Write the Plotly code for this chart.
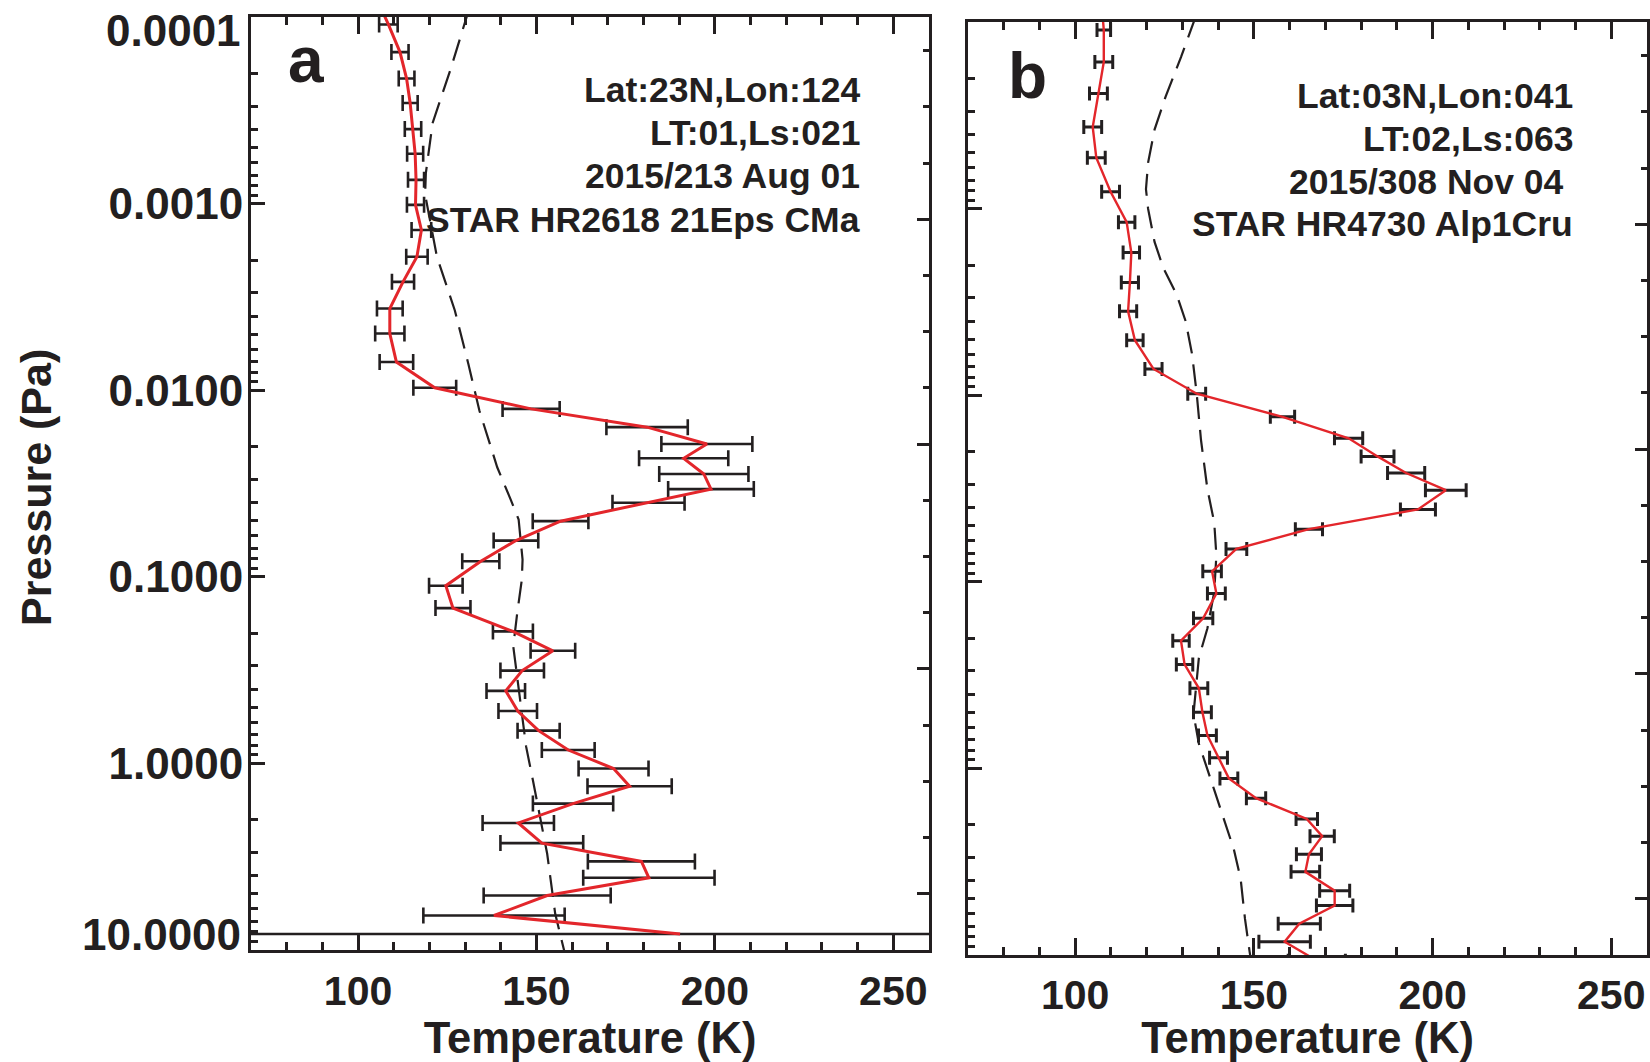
import plotly.graph_objects as go

# ---------------- data ----------------
# Panel a: retrieved temperature profile (K) vs pressure (Pa), with 1-sigma errors
temp_a = [105.7, 108.5, 111.75, 113.6, 114.6, 115.4, 116.0, 116.25, 116.1, 117.75,
          116.5, 112.6, 108.9, 108.9, 110.75, 121.5, 148.5, 181.0, 197.75, 191.25,
          196.9, 198.9, 181.4, 156.75, 144.25, 134.4, 124.6, 126.6, 143.4, 154.6,
          146.0, 141.4, 144.75, 150.6, 158.9, 171.6, 176.1, 160.25, 144.9, 151.5,
          179.4, 181.5, 153.0, 138.1, 190.25]
pres_a = [8.32e-5, 1.091e-4, 1.535e-4, 2.128e-4, 2.877e-4, 3.972e-4, 5.383e-4, 7.43e-4,
          1.012e-3, 1.380e-3, 1.919e-3, 2.618e-3, 3.639e-3, 4.955e-3, 7.047e-3, 9.683e-3,
          1.256e-2, 1.574e-2, 1.936e-2, 2.312e-2, 2.805e-2, 3.381e-2, 4.000e-2, 5.023e-2,
          6.383e-2, 8.241e-2, 0.1114, 0.1469, 0.1959, 0.2489, 0.3177, 0.4083, 0.5236,
          0.6668, 0.8472, 1.064, 1.324, 1.641, 2.084, 2.673, 3.350, 4.102, 5.105, 6.531,
          8.204]
err_a = [2.5, 2.6, 2.4, 2.2, 2.1, 2.3, 2.25, 2.25, 2.4, 2.75,
         3.0, 3.1, 3.6, 4.1, 4.7, 6.0, 8.0, 11.4, 12.75, 12.5,
         12.5, 12.0, 10.1, 7.8, 6.25, 5.2, 4.7, 4.9, 5.6, 6.25,
         6.1, 5.4, 5.4, 5.9, 7.4, 9.8, 11.8, 11.25, 10.0, 11.6,
         15.0, 18.4, 17.8, 19.8, 400.0]
# Panel a: model (dashed) profile
model_temp_a = [131.2, 125.9, 120.9, 119.0, 118.8, 122.1, 127.1, 130.9, 134.0, 139.0,
                142.75, 145.0, 146.1, 145.9, 144.6, 143.5, 145.9, 147.1, 149.0, 150.9,
                153.0, 155.25, 157.75, 158.1]
model_pres_a = [8.91e-5, 1.905e-4, 3.681e-4, 6.839e-4, 8.913e-4, 1.919e-3, 3.715e-3,
                7.194e-3, 1.282e-2, 2.582e-2, 3.837e-2, 4.920e-2, 8.072e-2, 0.1033,
                0.1563, 0.2360, 0.5383, 0.8128, 1.230, 1.858, 3.048, 6.397, 10.0, 10.72]

# Panel b
temp_b = [107.6, 108.0, 108.0, 106.5, 104.9, 105.9, 109.9, 114.4, 115.7, 115.3,
          114.8, 116.7, 121.9, 134.0, 158.0, 176.5, 184.6, 192.6, 203.7, 195.9,
          165.4, 145.1, 138.3, 139.5, 135.8, 129.6, 130.6, 134.6, 135.6, 137.0,
          140.1, 143.0, 150.6, 164.8, 169.1, 165.4, 164.4, 172.6, 172.6, 162.7,
          158.6, 167.6]
pres_b = [8.91e-5, 1.099e-4, 1.629e-4, 2.404e-4, 3.639e-4, 5.321e-4, 8.091e-4, 1.178e-3,
          1.714e-3, 2.483e-3, 3.540e-3, 5.058e-3, 7.211e-3, 9.795e-3, 1.303e-2, 1.698e-2,
          2.123e-2, 2.606e-2, 3.221e-2, 4.083e-2, 5.212e-2, 6.653e-2, 8.770e-2, 0.1153,
          0.1567, 0.2065, 0.2767, 0.3715, 0.5000, 0.6653, 0.8750, 1.130, 1.442, 1.866,
          2.307, 2.884, 3.581, 4.519, 5.433, 6.792, 8.492, 10.72]
err_b = [1.9, 1.9, 2.5, 2.5, 2.5, 2.5, 2.5, 2.3, 2.3, 2.4,
         2.4, 2.3, 2.4, 2.5, 3.4, 3.95, 4.6, 5.2, 5.7, 4.9,
         3.8, 2.9, 2.6, 2.5, 2.7, 2.3, 2.3, 2.5, 2.5, 2.5,
         2.5, 2.5, 2.7, 3.0, 3.4, 3.5, 4.0, 4.2, 5.1, 5.9,
         7.2, 8.0]
model_temp_b = [133.7, 129.6, 125.3, 122.2, 120.4, 119.8, 120.4, 122.2, 124.7, 128.4,
                130.9, 132.7, 134.0, 135.2, 137.0, 138.9, 139.5, 138.9, 137.0, 134.6,
                133.1, 134.6, 138.9, 142.0, 144.4, 146.3, 147.5, 148.8, 149.2]
model_pres_b = [9.33e-5, 1.535e-4, 2.500e-4, 3.758e-4, 5.649e-4, 7.834e-4, 1.0e-3,
                1.503e-3, 2.084e-3, 2.884e-3, 3.999e-3, 6.012e-3, 9.795e-3, 1.734e-2,
                3.192e-2, 4.797e-2, 7.211e-2, 0.1130, 0.1770, 0.2553, 0.5105, 0.7362,
                1.303, 1.959, 2.716, 3.917, 6.383, 9.594, 10.72]

# axis ticks / labels
x_tickvals = [100, 150, 200, 250]
y_tickvals = [1e-4, 1e-3, 1e-2, 1e-1, 1, 10]
y_ticktext = ["0.0001", "0.0010", "0.0100", "0.1000", "1.0000", "10.0000"]
y_minor_vals = [m * 10.0 ** d for d in range(-4, 1) for m in range(2, 10)]

x_title = "Temperature (K)"
y_title = "Pressure (Pa)"
info_a = ["Lat:23N,Lon:124", "LT:01,Ls:021", "2015/213 Aug 01", "STAR HR2618 21Eps CMa"]
info_b = ["Lat:03N,Lon:041", "LT:02,Ls:063", "2015/308 Nov 04\u00a0", "STAR HR4730 Alp1Cru"]

# ---------------- styling ----------------
INK = "#231f20"
RED = "#e3262b"
FONT = "Liberation Sans, Arial, Helvetica, sans-serif"
W, H = 1650, 1062

def px_x(p):
    return p / W

def px_y(p):
    return 1 - p / H

fig = go.Figure()

def add_panel(T, P, E, mT, mP, xa, ya, yalt, lw, ethick, ewidth):
    fig.add_trace(go.Scatter(x=mT, y=mP, mode="lines", xaxis=xa, yaxis=ya,
                             line=dict(color=INK, width=2.2, dash="22px,11px"),
                             showlegend=False, hoverinfo="skip"))
    fig.add_trace(go.Scatter(x=T, y=P, mode="markers", xaxis=xa, yaxis=ya,
                             marker=dict(size=2, color="rgba(0,0,0,0)"),
                             error_x=dict(type="data", array=E, color=INK,
                                          thickness=ethick, width=ewidth),
                             showlegend=False))
    fig.add_trace(go.Scatter(x=T, y=P, mode="lines", xaxis=xa, yaxis=ya,
                             line=dict(color=RED, width=lw),
                             showlegend=False))
    fig.add_trace(go.Scatter(x=[], y=[], xaxis=xa, yaxis=yalt, showlegend=False))

add_panel(temp_a, pres_a, err_a, model_temp_a, model_pres_a, "x", "y", "y3", 3.0, 2.6, 8)
add_panel(temp_b, pres_b, err_b, model_temp_b, model_pres_b, "x2", "y2", "y4", 2.4, 3.0, 7)

def xaxis_cfg(domain, anchor, standoff, title_standoff):
    return dict(domain=domain, anchor=anchor, range=[70, 260],
                tickvals=x_tickvals, ticks="inside", ticklen=17, tickwidth=2.5,
                tickcolor=INK, showline=True, linecolor=INK, linewidth=3,
                mirror="ticks", showgrid=False, zeroline=False,
                tickfont=dict(family=FONT, size=41, color=INK, weight="bold"),
                ticklabelstandoff=standoff,
                title=dict(text=x_title, standoff=title_standoff,
                           font=dict(family=FONT, size=43.5, color=INK, weight="bold")),
                minor=dict(dtick=10, tick0=0, ticks="inside", ticklen=8,
                           tickwidth=2.5, tickcolor=INK, showgrid=False))

# the two end labels of the pressure axis sit slightly inside the frame in the
# reference, so they are drawn as annotations; the inner ones are normal tick labels
inner_text = [""] + y_ticktext[1:-1] + [""]

def yaxis_cfg(domain, anchor, labels):
    return dict(domain=domain, anchor=anchor, type="log", range=[1, -4.002],
                tickvals=y_tickvals, ticktext=inner_text, showticklabels=labels,
                ticks="inside", ticklen=14, tickwidth=2.5, tickcolor=INK,
                showline=True, linecolor=INK, linewidth=3, mirror=True,
                showgrid=False, zeroline=False,
                tickfont=dict(family=FONT, size=44, color=INK, weight="bold"),
                ticklabelstandoff=-4,
                minor=dict(tickvals=y_minor_vals, ticks="inside", ticklen=7,
                           tickwidth=2.5, tickcolor=INK, showgrid=False))

def alt_cfg(overlay, anchor):
    return dict(overlaying=overlay, anchor=anchor, side="right", range=[35.0, 118.0],
                tick0=0, dtick=20, ticks="inside", ticklen=12, tickwidth=2.5,
                tickcolor=INK, showticklabels=False, showline=False, showgrid=False,
                zeroline=False,
                minor=dict(tick0=0, dtick=5, ticks="inside", ticklen=6,
                           tickwidth=2.5, tickcolor=INK, showgrid=False))

dom_ax = [px_x(251), px_x(929)]
dom_ay = [px_y(950), px_y(17)]
dom_bx = [px_x(968), px_x(1647)]
dom_by = [px_y(955), px_y(22)]

fig.update_layout(
    width=W, height=H, margin=dict(l=0, r=0, t=0, b=0, autoexpand=False),
    paper_bgcolor="white", plot_bgcolor="white", showlegend=False,
    xaxis=xaxis_cfg(dom_ax, "y", 3, 23),
    yaxis=yaxis_cfg(dom_ay, "x", True),
    xaxis2=xaxis_cfg(dom_bx, "y2", 2, 23),
    yaxis2=yaxis_cfg(dom_by, "x2", False),
    yaxis3=alt_cfg("y", "x"),
    yaxis4=alt_cfg("y2", "x2"),
)

ann = []
def txt(text, x, y, size, xanchor="center", angle=0):
    ann.append(dict(text=text, x=px_x(x), y=px_y(y), xref="paper", yref="paper",
                    showarrow=False, xanchor=xanchor, yanchor="middle", textangle=angle,
                    font=dict(family=FONT, size=size, color=INK, weight="bold")))

# end labels of the pressure axis
txt(y_ticktext[0], 243, 31, 44, xanchor="right")
txt(y_ticktext[-1], 243, 934, 44, xanchor="right")
# y-axis title
txt(y_title, 36, 488, 43, angle=-90)
# panel letters
txt("a", 306, 60, 64)
txt("b", 1027, 76, 64)
# info text
for line, yy in zip(info_a, [90, 133, 176, 220]):
    txt(line, 862, yy, 35.5, xanchor="right")
for line, yy in zip(info_b, [96, 139, 182, 224]):
    txt(line, 1575, yy, 35.5, xanchor="right")

fig.update_layout(annotations=ann)
fig.write_html("out.html")
